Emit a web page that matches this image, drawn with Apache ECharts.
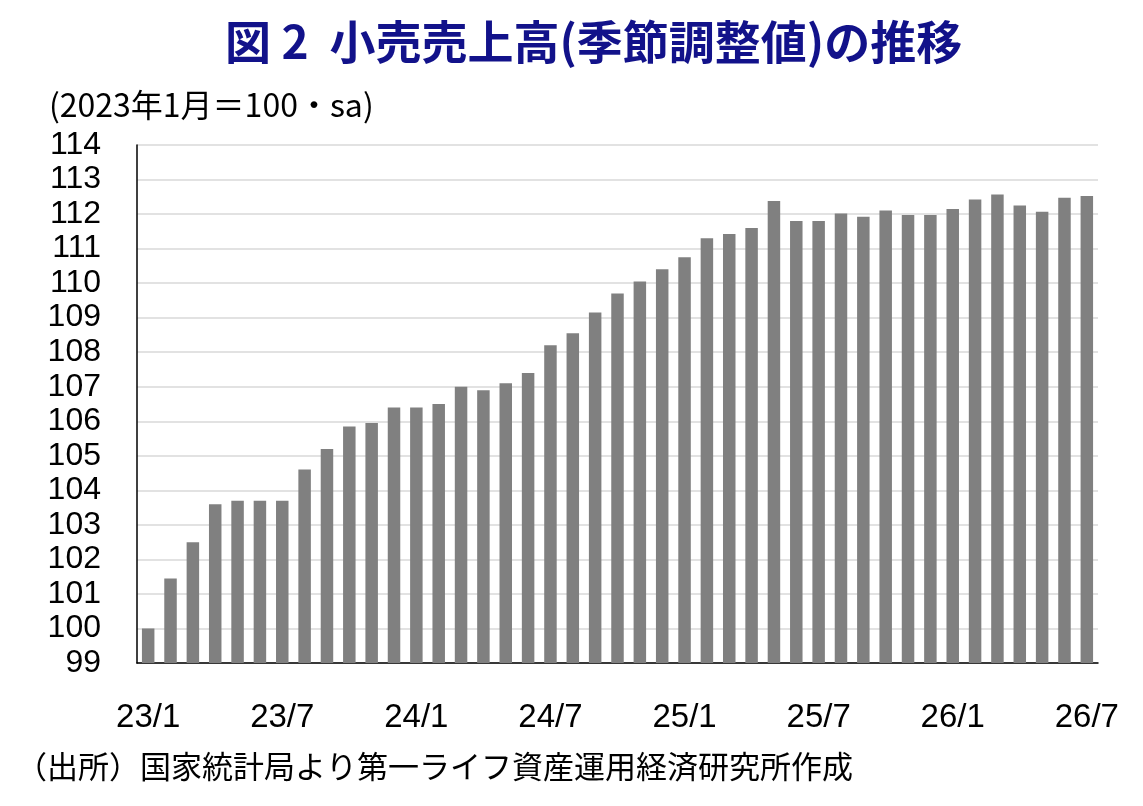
<!DOCTYPE html>
<html>
<head>
<meta charset="utf-8">
<script src="https://cdn.jsdelivr.net/npm/echarts@6/dist/echarts.min.js"></script>
<style>
html,body{margin:0;padding:0;background:#fff;}
#c{width:1143px;height:806px;}
</style>
</head>
<body>
<div id="c"></div>
<script>
const categories = [
  "23/1","23/2","23/3","23/4","23/5","23/6","23/7","23/8","23/9","23/10","23/11","23/12",
  "24/1","24/2","24/3","24/4","24/5","24/6","24/7","24/8","24/9","24/10","24/11","24/12",
  "25/1","25/2","25/3","25/4","25/5","25/6","25/7","25/8","25/9","25/10","25/11","25/12",
  "26/1","26/2","26/3","26/4","26/5","26/6","26/7"
];
const retailSales = [
  100.0,101.45,102.5,103.6,103.7,103.7,103.7,104.6,105.2,105.85,105.95,106.4,
  106.4,106.5,107.0,106.9,107.1,107.4,108.2,108.55,109.15,109.7,110.05,110.4,
  110.75,111.3,111.42,111.6,112.38,111.8,111.8,112.02,111.92,112.1,111.97,111.97,
  112.15,112.42,112.57,112.25,112.07,112.47,112.52
];
const titleText = "図 2  小売売上高(季節調整値)の推移";
const unitText = "(2023年1月＝100・sa)";
const sourceText = "（出所）国家統計局より第一ライフ資産運用経済研究所作成";
const yMin = 99, yMax = 114, yStep = 1;

const chart = echarts.init(document.getElementById('c'), null, {renderer:'canvas'});
chart.setOption({
  animation:false,
  backgroundColor:'#ffffff',
  title:[
    {text:titleText,left:220,top:14,textStyle:{fontFamily:'Noto Sans CJK JP',fontWeight:'bold',fontSize:46,color:'#12128a'}},
    {text:unitText,left:44,top:84,textStyle:{fontFamily:'Noto Sans CJK JP',fontWeight:'normal',fontSize:32,color:'#000'}}
  ],
  graphic:[
    {type:'text',left:16,top:751,style:{text:sourceText,font:'31px "Noto Sans CJK JP"',fill:'#000'}}
  ],
  grid:{left:137,right:45,top:145,bottom:143,containLabel:false},
  xAxis:{
    type:'category',data:categories,boundaryGap:true,
    axisLine:{show:true,lineStyle:{color:'#000',width:1.5}},
    axisTick:{show:false},
    axisLabel:{interval:5,margin:38,fontFamily:'Liberation Sans',fontSize:33,color:'#000'}
  },
  yAxis:{
    type:'value',min:yMin,max:yMax,interval:yStep,
    axisLine:{show:true,lineStyle:{color:'#000',width:1.5}},
    axisTick:{show:false},
    axisLabel:{margin:36,fontFamily:'Liberation Sans',fontSize:32,color:'#000'},
    splitLine:{show:true,lineStyle:{color:'#d9d9d9',width:1.5}}
  },
  series:[{type:'bar',data:retailSales,barWidth:12.5,itemStyle:{color:'#808080'}}]
});
</script>
</body>
</html>
